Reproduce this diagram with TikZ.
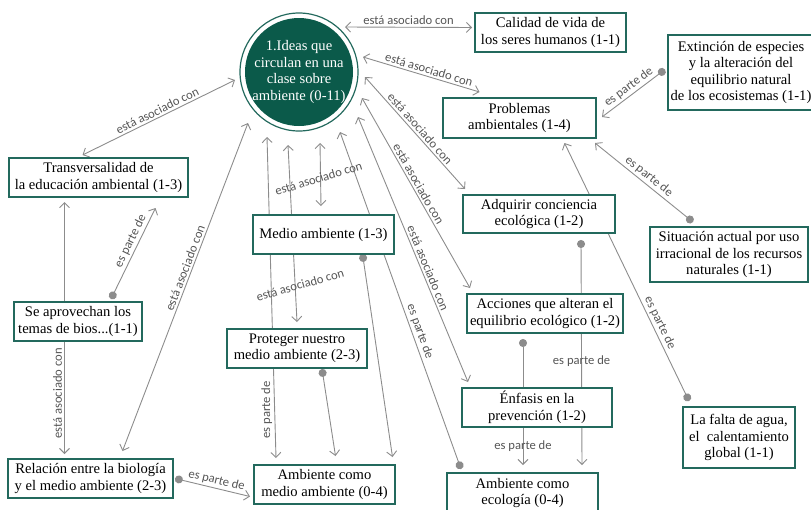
\documentclass[tikz,border=0pt]{standalone}
\usepackage{fontspec}
\setmainfont{Liberation Serif}
\newfontfamily\labfont{Carlito}
\usetikzlibrary{arrows.meta,calc}
\pgfdeclarelayer{bg}
\pgfsetlayers{bg,main}
\definecolor{boxc}{HTML}{23695D}
\definecolor{circfill}{HTML}{0B5A4A}
\definecolor{linec}{HTML}{8C8C8C}
\definecolor{labc}{HTML}{555555}
\newcommand\nodefs{\fontsize{14.6}{16.5}\selectfont}
\newcommand\labfs{\labfont\fontsize{12.6}{14}\selectfont}
\tikzset{
  tipA/.tip={Straight Barb[length=5pt,width=10pt]},
  tipD/.tip={Circle[length=8pt]},
  box/.style={draw=boxc, line width=1.2pt, fill=white, align=center, font=\nodefs, inner sep=0pt, outer sep=0pt},
  lab/.style={font=\labfs, text=labc, inner sep=2pt},
  con/.style={draw=linec, line width=0.9pt},
  both/.style={con, tipA-tipA},
  dotto/.style={con, tipD-tipA},
  todot/.style={con, tipA-tipD},
}
\begin{document}
\begin{tikzpicture}[x=1pt,y=-1pt]
\useasboundingbox (0,0) rectangle (811,509);

% central concept
\node[circle, fill=circfill, minimum size=108pt, inner sep=0pt] (ideain) at (299,72) {};
\node[circle, draw=boxc, line width=1.2pt, minimum size=118pt, inner sep=0pt, text=white, align=center, font=\nodefs] (idea) at (299,72) {1.Ideas que\\circulan en una\\clase sobre\\ambiente (0-11)};

% boxes
\node[box, minimum width=151pt, minimum height=39pt] (cal) at (550.5,32.5) {Calidad de vida de\\los seres humanos (1-1)};
\node[box, minimum width=146pt, minimum height=75pt] (ext) at (741,72.5) {Extinción de especies\\y la alteración del\\equilibrio natural\\de los ecosistemas (1-1)};
\node[box, minimum width=153pt, minimum height=40pt] (prob) at (519.5,118) {Problemas\\ambientales (1-4)};
\node[box, minimum width=179pt, minimum height=39pt] (tra) at (98.5,177.5) {Transversalidad de\\la educación ambiental (1-3)};
\node[box, minimum width=141pt, minimum height=39pt] (med) at (323.5,234.5) {Medio ambiente (1-3)};
\node[box, minimum width=152pt, minimum height=38pt] (adq) at (539,214) {Adquirir conciencia\\ecológica (1-2)};
\node[box, minimum width=158pt, minimum height=55pt] (sit) at (729,254.5) {Situación actual por uso\\irracional de los recursos\\naturales (1-1)};
\node[box, minimum width=156pt, minimum height=39pt] (acc) at (545,313.5) {Acciones que alteran el\\equilibrio ecológico (1-2)};
\node[box, minimum width=128pt, minimum height=39pt] (apr) at (78,321.5) {Se aprovechan los\\temas de bios...(1-1)};
\node[box, minimum width=140pt, minimum height=39pt] (pro) at (297,348.5) {Proteger nuestro\\medio ambiente (2-3)};
\node[box, minimum width=150pt, minimum height=39pt] (enf) at (537,407.5) {Énfasis en la\\prevención (1-2)};
\node[box, minimum width=112pt, minimum height=61pt] (fal) at (739,437.5) {La falta de agua,\\el\ \ calentamiento\\global (1-1)};
\node[box, minimum width=165pt, minimum height=39pt] (rel) at (90.5,478.5) {Relación entre la biología\\y el medio ambiente (2-3)};
\node[box, minimum width=141pt, minimum height=39pt] (amb) at (324.5,484.5) {Ambiente como\\medio ambiente (0-4)};
\node[box, minimum width=151pt, minimum height=40pt] (eco) at (522.5,493) {Ambiente como\\ecología (0-4)};

\begin{pgfonlayer}{bg}
\draw[both] ($(idea.center)+(46,-45)$) -- ($(cal.west)+(-3,-5)$) node[lab, midway, above] {está asociado con};
\draw[both] ($(idea.center)+(64,-15)$) -- ($(prob.north)+(-40,-6)$) node[lab, pos=0.55, sloped, above] {está asociado con};
\draw[both] ($(idea.center)+(66,5)$) -- ($(adq.north west)+(2,-6)$) node[lab, pos=0.5, sloped, above] {está asociado con};
\draw[both] ($(idea.center)+(63,26)$) -- ($(acc.north west)+(3,-6)$) node[lab, pos=0.47, sloped, above] {está asociado con};
\draw[both] ($(idea.center)+(59,45)$) -- ($(enf.north west)+(6,-6)$) node[lab, pos=0.58, sloped, above] {está asociado con};
\draw[todot] ($(idea.center)+(41,60)$) -- ($(eco.north west)+(14,-4)$) node[lab, pos=0.6, sloped, above] {es parte de};
\draw[both] ($(tra.north)+(-16,-3)$) -- ($(idea.center)+(-64,8)$) node[lab, pos=0.51, sloped, above] {está asociado con};
\draw[both] ($(rel.north)+(32,-8)$) -- ($(idea.center)+(-51,51)$) node[lab, pos=0.55, sloped, above] {está asociado con};
\draw[both] ($(tra.south)+(-34,5)$) -- ($(rel.north)+(-26,-5)$) node[lab, pos=0.76, rotate=90, anchor=south] {está asociado con};
\draw[dotto] ($(apr.north)+(33,-3)$) -- ($(tra.south)+(57,11)$) node[lab, pos=0.6, sloped, above] {es parte de};
\draw[dotto] ($(rel.east)+(2,0)$) -- ($(amb.west)+(-4,12)$) node[lab, pos=0.53, sloped, above] {es parte de};
\draw[dotto] ($(pro.south)+(25,1)$) -- ($(amb.north)+(11,-9)$);
\draw[both] ($(amb.north)+(-48.5,-7)$) -- ($(idea.center)+(-32,65)$) node[lab, pos=0.15, rotate=90, anchor=south] {es parte de};
\draw[both] ($(idea.center)+(-11,73)$) -- ($(pro.north)+(0,-7)$) node[lab, pos=0.79, xshift=5pt, rotate=16] {está asociado con};
\draw[both] ($(idea.center)+(21,71)$) -- ($(med.north)+(-2.5,-9)$) node[lab, pos=0.56, xshift=-2pt, rotate=17] {está asociado con};
\draw[dotto] ($(med.south)+(39,0)$) -- ($(amb.north)+(68,-8)$);
\draw[dotto] ($(ext.west)+(-3,-3)$) -- ($(prob.east)+(6,-1)$) node[lab, pos=0.5, sloped, above] {es parte de};
\draw[dotto] ($(sit.north)+(-36,-5)$) -- ($(prob.south east)+(-1,5)$) node[lab, pos=0.5, sloped, above] {es parte de};
\draw[dotto] ($(fal.north)+(-50,-6)$) -- ($(prob.south)+(45,5)$) node[lab, pos=0.29, sloped, above] {es parte de};
\draw[dotto] ($(adq.south)+(42,7)$) -- ($(eco.north)+(59.5,-8)$) node[lab, pos=0.54] {es parte de};
\draw[dotto] ($(acc.south)+(-22,6)$) -- ($(eco.north)+(0.5,-8)$) node[lab, pos=0.85] {es parte de};
\end{pgfonlayer}
\end{tikzpicture}
\end{document}
